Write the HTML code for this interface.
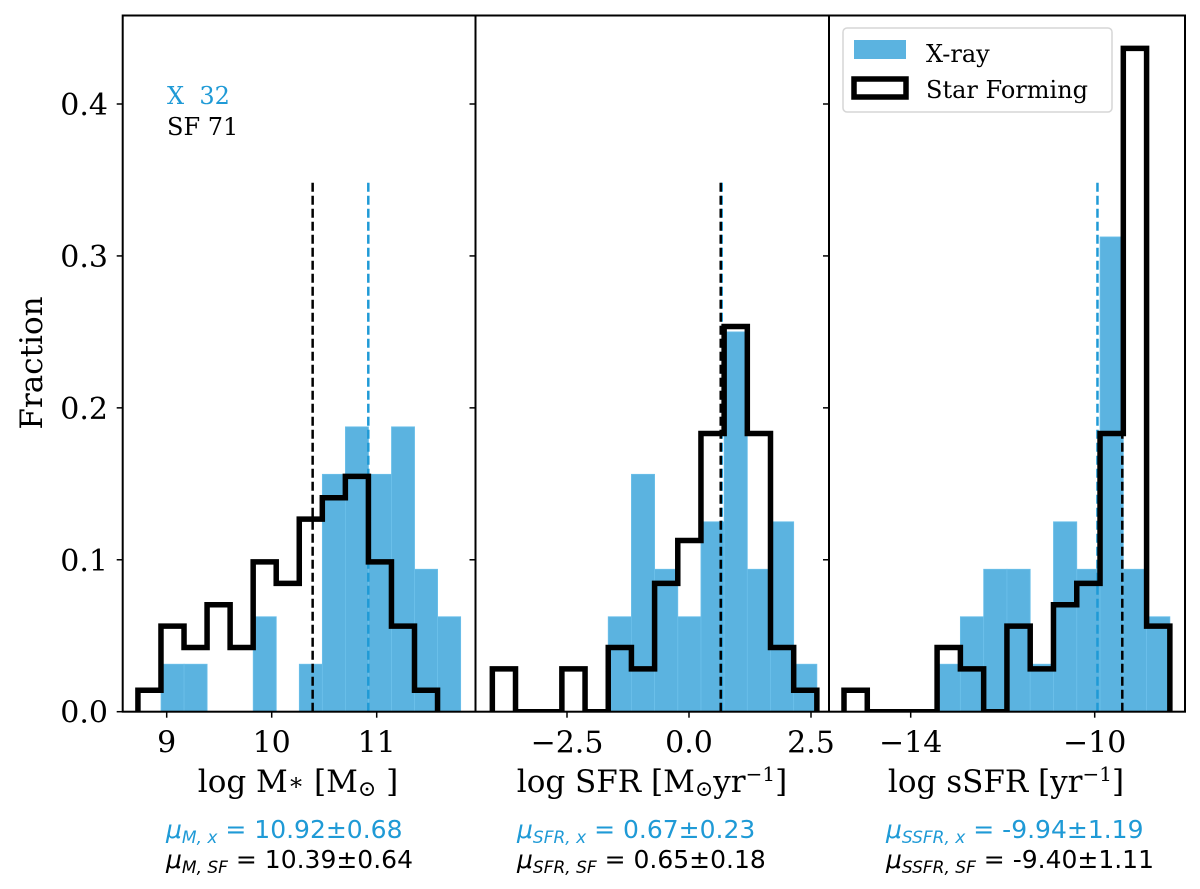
<!DOCTYPE html>
<html><head><meta charset="utf-8"><style>
html,body{margin:0;padding:0;background:#fff;}
svg{display:block;}
.tk{font-family:"DejaVu Serif","Liberation Serif",serif;font-size:30px;}
.lab{font-family:"DejaVu Serif","Liberation Serif",serif;font-size:31px;}
.mu{font-family:"DejaVu Sans","Liberation Sans",sans-serif;font-size:25px;}
</style></head><body>
<svg id="chart" width="1200" height="889" viewBox="0 0 1200 889" xmlns="http://www.w3.org/2000/svg"></svg>
<script>
// ---- data ----
const yTicks = [0.0, 0.1, 0.2, 0.3, 0.4];
const yTickLabels = ["0.0", "0.1", "0.2", "0.3", "0.4"];
const nX = 32;
const nSF = 71;
// panel 1: log M*
const massXCounts = [1,1,0,0,2,0,1,5,6,5,6,3,2];
const massXStart = 8.946;
const massSFCounts = [1,4,3,5,3,7,6,9,10,11,7,4,1];
const massSFStart = 8.726;
const massBinWidth = 0.2195;
const massTicks = [9, 10, 11];
const massTickLabels = ["9", "10", "11"];
const massMeans = [10.92, 10.39];
// panel 2: log SFR
const sfrXCounts = [0,0,0,0,0,2,5,3,2,4,8,3,4,1];
const sfrSFCounts = [2,0,0,2,0,3,2,6,8,13,18,13,3,1];
const sfrStart = -4.03;
const sfrBinWidth = 0.475;
const sfrTicks = [-2.5, 0.0, 2.5];
const sfrTickLabels = ["\u22122.5", "0.0", "2.5"];
const sfrMeans = [0.67, 0.65];
// panel 3: log sSFR
const ssfrXCounts = [0,0,0,0,1,2,3,3,1,4,3,10,3,2];
const ssfrSFCounts = [1,0,0,0,3,2,0,4,2,5,6,13,31,4];
const ssfrStart = -15.45;
const ssfrBinWidth = 0.506;
const ssfrTicks = [-14, -10];
const ssfrTickLabels = ["\u221214", "\u221210"];
const ssfrMeans = [-9.94, -9.40];

const NS = "http://www.w3.org/2000/svg";
const svg = document.getElementById("chart");
const BLUE = "#5bb3e0", BLUED = "#1f9ad6";
const TOP = 15.5, BOT = 711.7;
function yS(v){ return BOT - v / 0.4 * (BOT - 104); }
function mk(tag, attrs, parent){
  const e = document.createElementNS(NS, tag);
  for (const k in attrs) e.setAttribute(k, attrs[k]);
  (parent || svg).appendChild(e);
  return e;
}
const panels = [
  {name:"mass", left:122.7, right:475.5, x0:9, px0:166.7, scale:105, xc:massXCounts, xs:massXStart, sc:massSFCounts, ss:massSFStart, w:massBinWidth, ticks:massTicks, tl:massTickLabels, means:massMeans},
  {name:"sfr", left:475.5, right:829, x0:0, px0:689, scale:48.8, xc:sfrXCounts, xs:sfrStart, sc:sfrSFCounts, ss:sfrStart, w:sfrBinWidth, ticks:sfrTicks, tl:sfrTickLabels, means:sfrMeans},
  {name:"ssfr", left:829, right:1185, x0:-14, px0:910.7, scale:46, xc:ssfrXCounts, xs:ssfrStart, sc:ssfrSFCounts, ss:ssfrStart, w:ssfrBinWidth, ticks:ssfrTicks, tl:ssfrTickLabels, means:ssfrMeans}
];
panels.forEach((p, pi) => {
  const xS = v => p.px0 + (v - p.x0) * p.scale;
  const g = mk("g", {});
  
  
  const cp = mk("clipPath", {id:"cp"+pi}, g);
  mk("rect", {x:p.left, y:TOP, width:p.right-p.left, height:BOT-TOP}, cp);
  const inner = mk("g", {"clip-path":"url(#cp"+pi+")"}, g);
  p.xc.forEach((c, i) => {
    if (!c) return;
    const x1 = xS(p.xs + i*p.w), x2 = xS(p.xs + (i+1)*p.w);
    const r = mk("rect", {x:x1, y:yS(c/nX), width:x2-x1, height:BOT-yS(c/nX), fill:BLUE, stroke:"#6cc0ea", "stroke-width":0.8}, inner);
    
    
  });
  const mb = mk("line", {x1:xS(p.means[0]), x2:xS(p.means[0]), y1:BOT, y2:yS(0.35), stroke:BLUED, "stroke-width":2.5, "stroke-dasharray":"9 4"}, inner);
  
  
  const mblk = mk("line", {x1:xS(p.means[1]), x2:xS(p.means[1]), y1:BOT, y2:yS(0.35), stroke:"#000", "stroke-width":2.5, "stroke-dasharray":"9 4"}, inner);
  
  
  let d = "M" + xS(p.ss) + "," + BOT;
  p.sc.forEach((c, i) => {
    const x1 = xS(p.ss + i*p.w), x2 = xS(p.ss + (i+1)*p.w);
    d += " L" + x1 + "," + yS(c/nSF) + " L" + x2 + "," + yS(c/nSF);
  });
  d += " L" + xS(p.ss + p.sc.length*p.w) + "," + BOT;
  const st = mk("path", {d:d, fill:"none", stroke:"#000", "stroke-width":5.5, "stroke-linejoin":"miter"}, inner);
  
  
  p.ticks.forEach((t, i) => {
    mk("line", {x1:xS(t), x2:xS(t), y1:BOT, y2:BOT+6, stroke:"#000", "stroke-width":1.5}, g);
    const tx = mk("text", {x:xS(t), y:BOT+41, "text-anchor":"middle", class:"tk", style:"fill:#000"}, g);
    tx.textContent = p.tl[i];
    
    
  });
  yTicks.forEach(v => mk("line", {x1:p.left-6, x2:p.left, y1:yS(v), y2:yS(v), stroke:"#000", "stroke-width":1.5}, g));
});
const fr = mk("rect", {x:122.7, y:TOP, width:1185-122.7, height:BOT-TOP, fill:"none", stroke:"#000", "stroke-width":2});


mk("line", {x1:475.5, x2:475.5, y1:TOP, y2:BOT, stroke:"#000", "stroke-width":2});
mk("line", {x1:829, x2:829, y1:TOP, y2:BOT, stroke:"#000", "stroke-width":2});
yTicks.forEach((v, i) => {
  const t = mk("text", {x:108, y:yS(v)+11, "text-anchor":"end", class:"tk", style:"fill:#000"});
  t.textContent = yTickLabels[i];
  
  
});
</script>
<script>
const S = document.getElementById("chart");
function T(x, y, txt, cls, extra, name){
  const t = document.createElementNS("http://www.w3.org/2000/svg", "text");
  t.setAttribute("x", x); t.setAttribute("y", y); t.setAttribute("class", cls);
  for (const k in extra) t.setAttribute(k, extra[k]);
  t.innerHTML = txt;
  
  
  S.appendChild(t); return t;
}
T(42, 363, "Fraction", "lab", {"text-anchor":"middle", transform:"rotate(-90 42 363)", style:"fill:#000"}, "y-axis-title");
T(298, 792, "log M<tspan font-size='24' dy='-2'>\u2217</tspan><tspan dy='2'> [M</tspan><tspan font-size='22' dy='4'>\u2299</tspan><tspan dy='-4'> ]</tspan>", "lab", {"text-anchor":"middle", style:"fill:#000"}, "x-axis-title-mass");
T(652, 792, "log SFR [M<tspan font-size='22' dy='4'>\u2299</tspan><tspan dy='-4'>yr</tspan><tspan font-size='20' dy='-11'>\u22121</tspan><tspan dy='11'>]</tspan>", "lab", {"text-anchor":"middle", style:"fill:#000"}, "x-axis-title-sfr");
T(1006, 792, "log sSFR [yr<tspan font-size='20' dy='-11'>\u22121</tspan><tspan dy='11'>]</tspan>", "lab", {"text-anchor":"middle", style:"fill:#000"}, "x-axis-title-ssfr");
T(166, 838, "<tspan font-style='italic'>\u03bc<tspan font-size='17' dy='5'>M, x</tspan></tspan><tspan dy='-5'> = 10.92\u00b10.68</tspan>", "mu", {style:"fill:#1f9ad6"}, "mass-xray-mean");
T(166, 868, "<tspan font-style='italic'>\u03bc<tspan font-size='17' dy='5'>M, SF</tspan></tspan><tspan dy='-5'> = 10.39\u00b10.64</tspan>", "mu", {style:"fill:#000"}, "mass-sf-mean");
T(517, 838, "<tspan font-style='italic'>\u03bc<tspan font-size='17' dy='5'>SFR, x</tspan></tspan><tspan dy='-5'> = 0.67\u00b10.23</tspan>", "mu", {style:"fill:#1f9ad6"}, "sfr-xray-mean");
T(517, 868, "<tspan font-style='italic'>\u03bc<tspan font-size='17' dy='5'>SFR, SF</tspan></tspan><tspan dy='-5'> = 0.65\u00b10.18</tspan>", "mu", {style:"fill:#000"}, "sfr-sf-mean");
T(886, 838, "<tspan font-style='italic'>\u03bc<tspan font-size='17' dy='5'>SSFR, x</tspan></tspan><tspan dy='-5'> = -9.94\u00b11.19</tspan>", "mu", {style:"fill:#1f9ad6"}, "ssfr-xray-mean");
T(886, 868, "<tspan font-style='italic'>\u03bc<tspan font-size='17' dy='5'>SSFR, SF</tspan></tspan><tspan dy='-5'> = -9.40\u00b11.11</tspan>", "mu", {style:"fill:#000"}, "ssfr-sf-mean");
T(167, 104, "X&#160;&#160;32", "tk", {style:"fill:#1f9ad6;font-size:24px"}, "xray-count");
T(167, 135, "SF 71", "tk", {style:"fill:#000;font-size:24px"}, "sf-count");
const lg = document.createElementNS("http://www.w3.org/2000/svg", "g");


S.appendChild(lg);
lg.innerHTML = "<rect x='843' y='28' width='269' height='84' rx='4' fill='#fff' fill-opacity='0.8' stroke='#d6d6d6' stroke-width='1.5'/>" +
  "<rect x='854' y='40' width='52' height='19' fill='#5bb3e0'/>" +
  "<rect x='854' y='79' width='52' height='18' fill='#fff' stroke='#000' stroke-width='5.5'/>";
T(926, 62, "X-ray", "tk", {style:"fill:#000;font-size:24px"}, "legend-xray");
T(926, 98, "Star Forming", "tk", {style:"fill:#000;font-size:24px"}, "legend-star-forming");
</script>
</body></html>
